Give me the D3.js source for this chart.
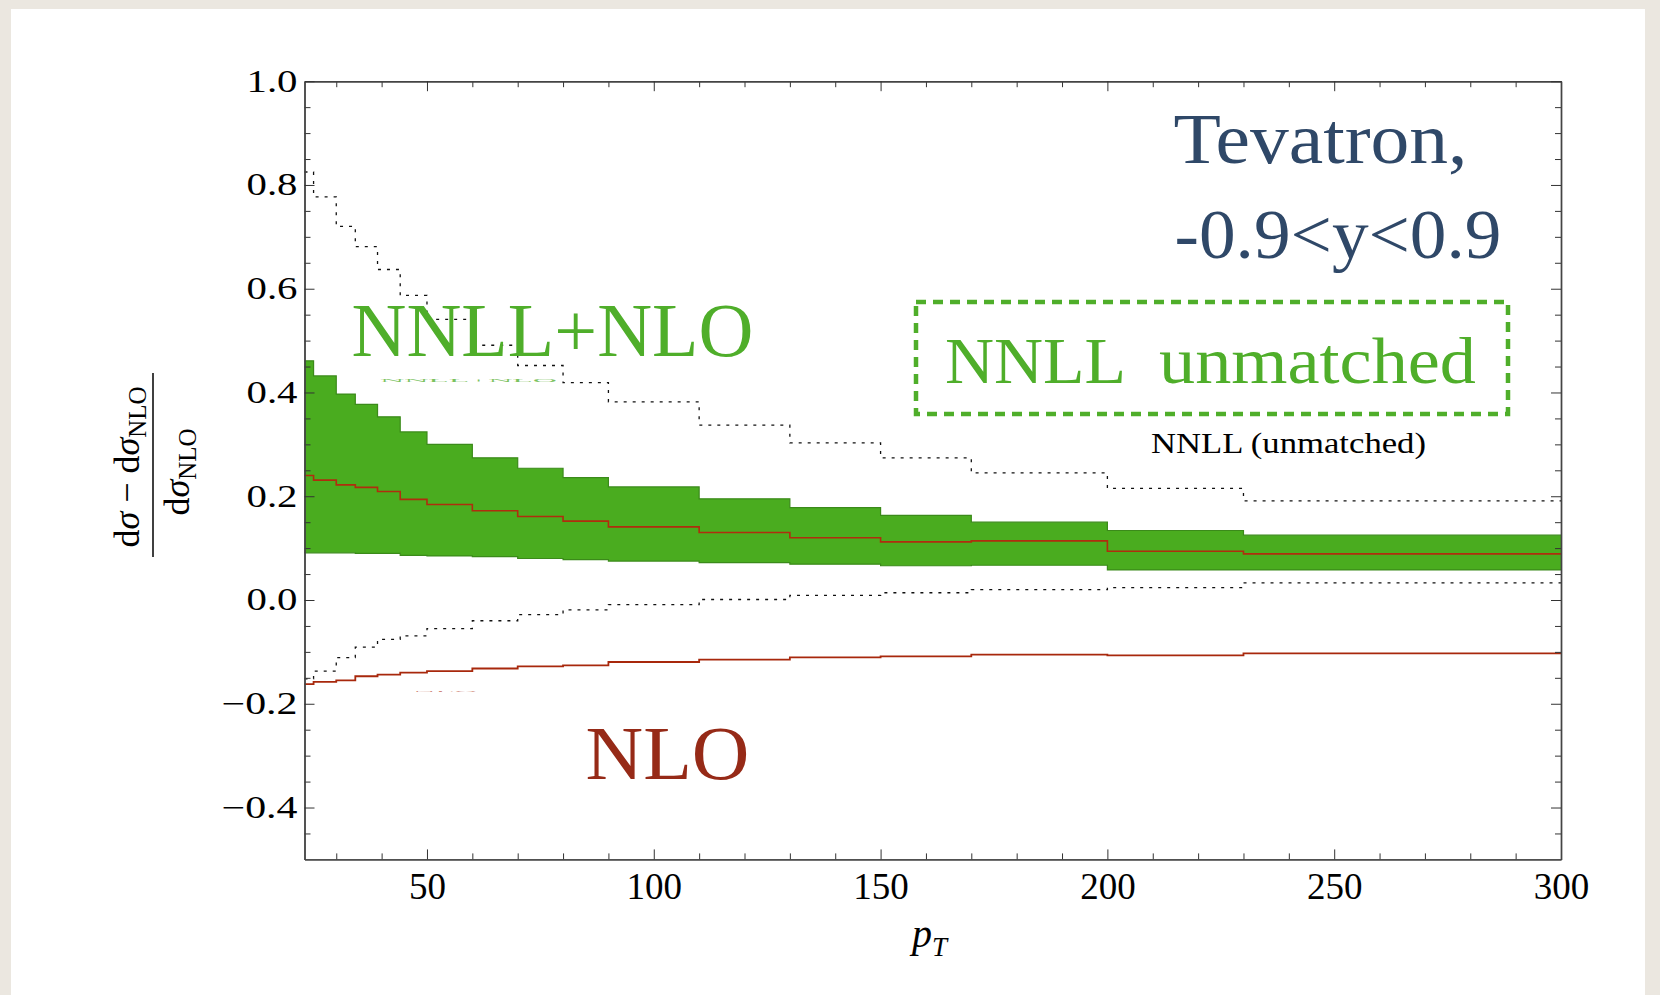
<!DOCTYPE html>
<html>
<head>
<meta charset="utf-8">
<script src="https://cdn.jsdelivr.net/npm/d3@7"></script>
<style>
  body { margin: 0; background: #ebe7e0; }
  svg { display: block; }
  .tick text { font-family: "Liberation Serif", "Times New Roman", serif; fill: #000; }
  .label { font-family: "Liberation Serif", "Times New Roman", serif; }
</style>
</head>
<body>
<script>
// bin edges in pT and the step values
var binEdges = [23, 25, 30, 34.2, 39.1, 44.1, 50, 60, 70, 80, 90, 110, 130, 150, 170, 200, 230, 300];

var matchedHigh = [0.461, 0.432, 0.397, 0.377, 0.353, 0.324, 0.300, 0.274, 0.254, 0.236, 0.218, 0.195, 0.178, 0.163, 0.150, 0.134, 0.125];
var matchedCentral = [0.240, 0.231, 0.222, 0.217, 0.209, 0.194, 0.184, 0.172, 0.161, 0.152, 0.141, 0.130, 0.120, 0.112, 0.114, 0.094, 0.089];
var matchedLow = [0.091, 0.091, 0.091, 0.090, 0.090, 0.086, 0.085, 0.0835, 0.080, 0.078, 0.075, 0.072, 0.069, 0.066, 0.067, 0.058, 0.058];

var unmatchedHigh = [0.825, 0.777, 0.720, 0.681, 0.637, 0.587, 0.541, 0.491, 0.452, 0.419, 0.382, 0.337, 0.303, 0.274, 0.245, 0.215, 0.191];
var unmatchedLow = [-0.152, -0.137, -0.111, -0.091, -0.076, -0.069, -0.055, -0.040, -0.028, -0.019, -0.009, 0.001, 0.009, 0.014, 0.020, 0.024, 0.033];

var nloLine = [-0.162, -0.158, -0.155, -0.147, -0.144, -0.140, -0.137, -0.132, -0.128, -0.126, -0.1195, -0.115, -0.1105, -0.1085, -0.1054, -0.1066, -0.1028];

var xMajor = [50, 100, 150, 200, 250, 300];
var xMinor = d3.range(30, 301, 10).filter(function(d){ return d % 50 != 0; });
var yMajor = [-0.4, -0.2, 0.0, 0.2, 0.4, 0.6, 0.8, 1.0];
var yMinor = [-0.45, -0.35, -0.3, -0.25, -0.15, -0.1, -0.05, 0.05, 0.1, 0.15, 0.25, 0.3, 0.35, 0.45, 0.5, 0.55, 0.65, 0.7, 0.75, 0.85, 0.9, 0.95];

const width = 1660, height = 995;
const plot = {left: 304.5, right: 1561, top: 81.2, bottom: 859.4};

var svg = d3.select("body").append("svg")
    .attr("width", width)
    .attr("height", height);

// white card on the beige backdrop
svg.append("rect")
    .attr("x", 11).attr("y", 9)
    .attr("width", 1634).attr("height", 990)
    .attr("fill", "#ffffff");

var x = d3.scaleLinear().domain([23, 300]).range([plot.left, plot.right]);
var y = d3.scaleLinear().domain([-0.5, 1.0]).range([plot.bottom, plot.top]);

// turn the bin arrays into step points (last value repeated at the end)
function steps(vals) {
    var pts = vals.map(function(v, i){ return {x: binEdges[i], v: v}; });
    pts.push({x: binEdges[binEdges.length - 1], v: vals[vals.length - 1]});
    return pts;
}

var bandPts = matchedHigh.map(function(v, i){ return {x: binEdges[i], hi: v, lo: matchedLow[i]}; });
bandPts.push({x: 300, hi: matchedHigh[matchedHigh.length - 1], lo: matchedLow[matchedLow.length - 1]});

var area = d3.area()
    .curve(d3.curveStepAfter)
    .x(function(d){ return x(d.x); })
    .y0(function(d){ return y(d.lo); })
    .y1(function(d){ return y(d.hi); });

var line = d3.line()
    .curve(d3.curveStepAfter)
    .x(function(d){ return x(d.x); })
    .y(function(d){ return y(d.v); });

var gr = svg.append("g");

gr.append("path")
    .datum(bandPts)
    .attr("d", area)
    .attr("fill", "#4aac1f");

// darker rim on the band
gr.append("path").datum(steps(matchedHigh)).attr("d", line)
    .attr("fill", "none").attr("stroke", "#3b8a1a").attr("stroke-width", 1.2);
gr.append("path").datum(steps(matchedLow)).attr("d", line)
    .attr("fill", "none").attr("stroke", "#3b8a1a").attr("stroke-width", 1.2);

gr.append("path").datum(steps(matchedCentral)).attr("d", line)
    .attr("fill", "none").attr("stroke", "#b02d0e").attr("stroke-width", 1.6);

gr.selectAll(".unm")
    .data([unmatchedHigh, unmatchedLow])
    .enter()
    .append("path")
    .attr("class", "unm")
    .attr("d", function(d){ return line(steps(d)); })
    .attr("fill", "none")
    .attr("stroke", "#111")
    .attr("stroke-width", 1.3)
    .attr("stroke-dasharray", "3,6");

gr.append("path").datum(steps(nloLine)).attr("d", line)
    .attr("fill", "none").attr("stroke", "#a8280c").attr("stroke-width", 1.8);

// axes - ticks point into the frame on all four sides
function styleAxis(g) {
    g.select(".domain").attr("stroke", "#444").attr("stroke-width", 1.4);
    g.selectAll(".tick line").attr("stroke", "#333").attr("stroke-width", 1);
}

svg.append("g")
    .attr("transform", "translate(0," + plot.bottom + ")")
    .call(d3.axisBottom(x).tickValues(xMinor).tickSize(-6).tickSizeOuter(0).tickFormat(""))
    .call(styleAxis);
var xBottom = svg.append("g")
    .attr("transform", "translate(0," + plot.bottom + ")")
    .call(d3.axisBottom(x).tickValues(xMajor).tickSize(-10).tickSizeOuter(0).tickPadding(13).tickFormat(d3.format("d")))
    .call(styleAxis);
xBottom.selectAll(".tick text").attr("font-size", 37);

svg.append("g")
    .attr("transform", "translate(0," + plot.top + ")")
    .call(d3.axisTop(x).tickValues(xMinor).tickSize(-6).tickSizeOuter(0).tickFormat(""))
    .call(styleAxis);
svg.append("g")
    .attr("transform", "translate(0," + plot.top + ")")
    .call(d3.axisTop(x).tickValues(xMajor).tickSize(-10).tickSizeOuter(0).tickFormat(""))
    .call(styleAxis);

svg.append("g")
    .attr("transform", "translate(" + plot.left + ",0)")
    .call(d3.axisLeft(y).tickValues(yMinor).tickSize(-6).tickSizeOuter(0).tickFormat(""))
    .call(styleAxis);
var yLeft = svg.append("g")
    .attr("transform", "translate(" + plot.left + ",0)")
    .call(d3.axisLeft(y).tickValues(yMajor).tickSize(-10).tickSizeOuter(0).tickPadding(7).tickFormat(d3.format(".1f")))
    .call(styleAxis);
yLeft.selectAll(".tick text")
    .attr("font-size", 31)
    .attr("textLength", function(d){ return d < 0 ? 76 : 51; })
    .attr("lengthAdjust", "spacingAndGlyphs");

svg.append("g")
    .attr("transform", "translate(" + plot.right + ",0)")
    .call(d3.axisRight(y).tickValues(yMinor).tickSize(-6).tickSizeOuter(0).tickFormat(""))
    .call(styleAxis);
svg.append("g")
    .attr("transform", "translate(" + plot.right + ",0)")
    .call(d3.axisRight(y).tickValues(yMajor).tickSize(-10).tickSizeOuter(0).tickFormat(""))
    .call(styleAxis);

// axis titles
var xt = svg.append("text").attr("class", "label")
    .attr("x", 912).attr("y", 947)
    .attr("font-style", "italic").attr("font-size", 40);
xt.append("tspan").text("p");
xt.append("tspan").attr("font-size", 27).attr("dy", 9).text("T");

var yt = svg.append("g").attr("transform", "translate(153,465) rotate(-90)");
var num = yt.append("text").attr("class", "label")
    .attr("x", -2).attr("y", -14)
    .attr("text-anchor", "middle").attr("font-size", 36);
num.append("tspan").text("d");
num.append("tspan").attr("font-style", "italic").text("σ");
num.append("tspan").text(" − d");
num.append("tspan").attr("font-style", "italic").text("σ");
num.append("tspan").attr("font-size", 25).attr("dy", 7).text("NLO");
yt.append("line")
    .attr("x1", -92).attr("x2", 92).attr("y1", 0).attr("y2", 0)
    .attr("stroke", "#000").attr("stroke-width", 1.5);
var den = yt.append("text").attr("class", "label")
    .attr("x", -7).attr("y", 36)
    .attr("text-anchor", "middle").attr("font-size", 36);
den.append("tspan").text("d");
den.append("tspan").attr("font-style", "italic").text("σ");
den.append("tspan").attr("font-size", 25).attr("dy", 7).text("NLO");

// leftover bits of the small original labels (covered in the slide),
// drawn flattened so only thin marks show
svg.append("text").attr("class", "label")
    .attr("transform", "translate(380,382) scale(1,0.09)")
    .attr("font-size", 38)
    .attr("textLength", 177).attr("lengthAdjust", "spacingAndGlyphs")
    .attr("fill", "#4fae2a").attr("opacity", 0.75)
    .text("NNLL+NLO");
svg.append("text").attr("class", "label")
    .attr("transform", "translate(413,692) scale(1,0.09)")
    .attr("font-size", 32)
    .attr("textLength", 64).attr("lengthAdjust", "spacingAndGlyphs")
    .attr("fill", "#b23a22").attr("opacity", 0.6)
    .text("NLO");

// big slide labels
function bigText(txt, x0, yb, size, len, col) {
    return svg.append("text").attr("class", "label")
        .attr("x", x0).attr("y", yb)
        .attr("font-size", size)
        .attr("textLength", len).attr("lengthAdjust", "spacingAndGlyphs")
        .attr("fill", col)
        .text(txt);
}

bigText("NNLL+NLO", 351.5, 356, 77, 402, "#4fae2a");
bigText("NLO", 585.5, 779, 77, 164, "#962a17");
bigText("Tevatron,", 1173.5, 163, 72, 294, "#2f4868");
bigText("-0.9<y<0.9", 1174.5, 258, 70, 327, "#2f4868");

svg.append("rect")
    .attr("x", 916).attr("y", 302)
    .attr("width", 592).attr("height", 112)
    .attr("fill", "none")
    .attr("stroke", "#4fae2a")
    .attr("stroke-width", 4.5)
    .attr("stroke-dasharray", "10,7");

bigText("NNLL", 945, 382.5, 65, 181, "#4fae2a");
bigText("unmatched", 1159, 382.5, 65, 317, "#4fae2a");
bigText("NNLL (unmatched)", 1151, 453, 30, 275, "#000");
</script>
</body>
</html>
